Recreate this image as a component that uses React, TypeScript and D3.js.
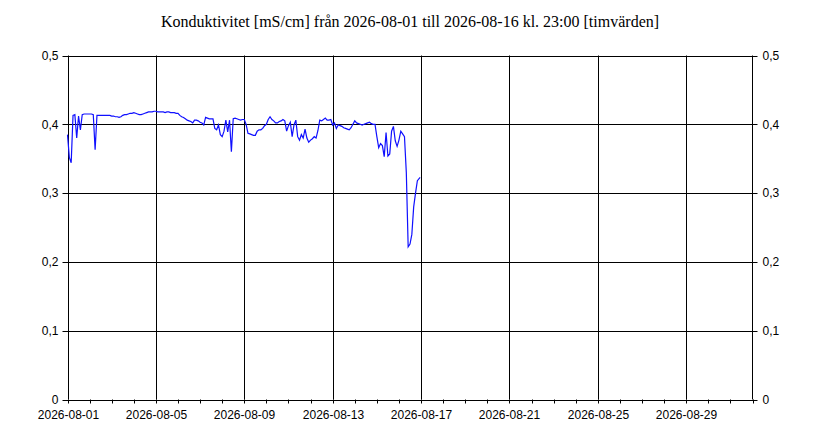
import { useRef, useEffect } from 'react';
import * as d3 from 'd3';

// conductivity readings, every second hour (00, 02, ... 22) per day
const aug01 = [0.385, 0.352, 0.344, 0.413, 0.414, 0.38, 0.412, 0.392, 0.414, 0.415, 0.415, 0.415];
const aug02 = [0.415, 0.415, 0.414, 0.363, 0.413, 0.413, 0.413, 0.413, 0.413, 0.413, 0.413, 0.413];
const aug03 = [0.412, 0.412, 0.411, 0.411, 0.41, 0.411, 0.413, 0.414, 0.414, 0.415, 0.416, 0.416];
const aug04 = [0.417, 0.416, 0.415, 0.414, 0.414, 0.415, 0.416, 0.417, 0.418, 0.418, 0.418, 0.419];
const aug05 = [0.419, 0.418, 0.418, 0.418, 0.418, 0.417, 0.418, 0.418, 0.417, 0.417, 0.417, 0.416];
const aug06 = [0.416, 0.413, 0.411, 0.41, 0.408, 0.406, 0.405, 0.404, 0.402, 0.406, 0.406, 0.405];
const aug07 = [0.403, 0.402, 0.399, 0.41, 0.409, 0.408, 0.408, 0.408, 0.394, 0.392, 0.399, 0.385];
const aug08 = [0.382, 0.39, 0.406, 0.389, 0.406, 0.36, 0.408, 0.409, 0.408, 0.407, 0.406, 0.407];
const aug09 = [0.407, 0.4, 0.387, 0.386, 0.385, 0.384, 0.384, 0.39, 0.392, 0.392, 0.394, 0.398];
const aug10 = [0.4, 0.407, 0.411, 0.407, 0.405, 0.402, 0.402, 0.404, 0.405, 0.407, 0.405, 0.39];
const aug11 = [0.398, 0.403, 0.382, 0.399, 0.406, 0.382, 0.377, 0.385, 0.38, 0.393, 0.38, 0.374];
const aug12 = [0.377, 0.379, 0.382, 0.38, 0.391, 0.406, 0.405, 0.407, 0.409, 0.406, 0.406, 0.407];
const aug13 = [0.399, 0.402, 0.394, 0.399, 0.398, 0.397, 0.395, 0.394, 0.393, 0.392, 0.395, 0.4];
const aug14 = [0.405, 0.402, 0.401, 0.4, 0.399, 0.4, 0.401, 0.402, 0.403, 0.401, 0.4, 0.4];
const aug15 = [0.382, 0.366, 0.372, 0.369, 0.353, 0.388, 0.354, 0.357, 0.39, 0.397, 0.376, 0.368];
const aug16 = [0.377, 0.39, 0.386, 0.382, 0.33, 0.222, 0.226, 0.24, 0.28, 0.3, 0.318, 0.323];

const days = [aug01, aug02, aug03, aug04, aug05, aug06, aug07, aug08,
    aug09, aug10, aug11, aug12, aug13, aug14, aug15, aug16];

const yTicks = [0, 0.1, 0.2, 0.3, 0.4, 0.5];
const title = 'Konduktivitet [mS/cm] från 2026-08-01 till 2026-08-16 kl. 23:00 [timvärden]';

const Chart = () => {
    const ref = useRef<SVGSVGElement>(null);

    useEffect(() => {
        const svg = d3.select(ref.current);
        svg.selectAll('*').remove();

        const left = 67.5, right = 752.5, top = 55.5, bottom = 399.5;
        const start = new Date(2026, 7, 1);
        const end = new Date(2026, 8, 1);

        const x = d3.scaleTime().domain([start, end]).range([left, right]);
        const y = d3.scaleLinear().domain([0, 0.5]).range([bottom, top]);

        const points = [];
        days.forEach((vals, d) => {
            vals.forEach((v, i) => {
                const hour = i === vals.length - 1 && d === days.length - 1 ? 23 : i * 2;
                points.push({ t: new Date(2026, 7, 1 + d, hour), v });
            });
        });

        svg.append('text')
            .attr('x', 410)
            .attr('y', 27)
            .attr('text-anchor', 'middle')
            .attr('font-family', '"Liberation Serif", "Times New Roman", serif')
            .attr('font-size', '16px')
            .attr('fill', '#000')
            .text(title);

        const g = svg.append('g');

        // horizontal grid + ticks on both sides
        yTicks.forEach(t => {
            g.append('line')
                .attr('x1', left - 5).attr('x2', right + 5)
                .attr('y1', Math.round(y(t)) + 0.5).attr('y2', Math.round(y(t)) + 0.5)
                .attr('stroke', '#000');
            g.append('text')
                .attr('x', left - 9).attr('y', y(t))
                .attr('dy', '0.35em')
                .attr('text-anchor', 'end')
                .attr('font-family', '"Liberation Sans", Arial, sans-serif')
                .attr('font-size', '12px')
                .text(String(t).replace('.', ','));
            g.append('text')
                .attr('x', right + 10).attr('y', y(t))
                .attr('dy', '0.35em')
                .attr('font-family', '"Liberation Sans", Arial, sans-serif')
                .attr('font-size', '12px')
                .text(String(t).replace('.', ','));
        });

        // day ticks and 4-day grid lines
        const dayTicks = d3.timeDay.range(start, d3.timeDay.offset(end, 1));
        dayTicks.forEach((d, i) => {
            const px = Math.round(x(d)) + 0.5;
            g.append('line')
                .attr('x1', px).attr('x2', px)
                .attr('y1', bottom).attr('y2', bottom + 4)
                .attr('stroke', '#000');
            if (i % 4 === 0 && i < 31) {
                g.append('line')
                    .attr('x1', px).attr('x2', px)
                    .attr('y1', top).attr('y2', bottom)
                    .attr('stroke', '#000');
                g.append('text')
                    .attr('x', px).attr('y', bottom + 19)
                    .attr('text-anchor', 'middle')
                    .attr('font-family', '"Liberation Sans", Arial, sans-serif')
                    .attr('font-size', '12px')
                    .text(d3.timeFormat('%Y-%m-%d')(d));
            }
        });

        // right axis line
        g.append('line')
            .attr('x1', right).attr('x2', right)
            .attr('y1', top).attr('y2', bottom)
            .attr('stroke', '#000');

        const line = d3.line()
            .x(d => x(d.t))
            .y(d => y(d.v));

        g.append('path')
            .datum(points)
            .attr('d', line)
            .attr('fill', 'none')
            .attr('stroke', '#1010ff')
            .attr('stroke-width', 1.2);
    }, []);

    return <svg ref={ref} width={820} height={444}
        style={{ position: 'absolute', left: 0, top: 0, background: '#fff' }}></svg>;
};

export default function App() {
    return <Chart />;
}
